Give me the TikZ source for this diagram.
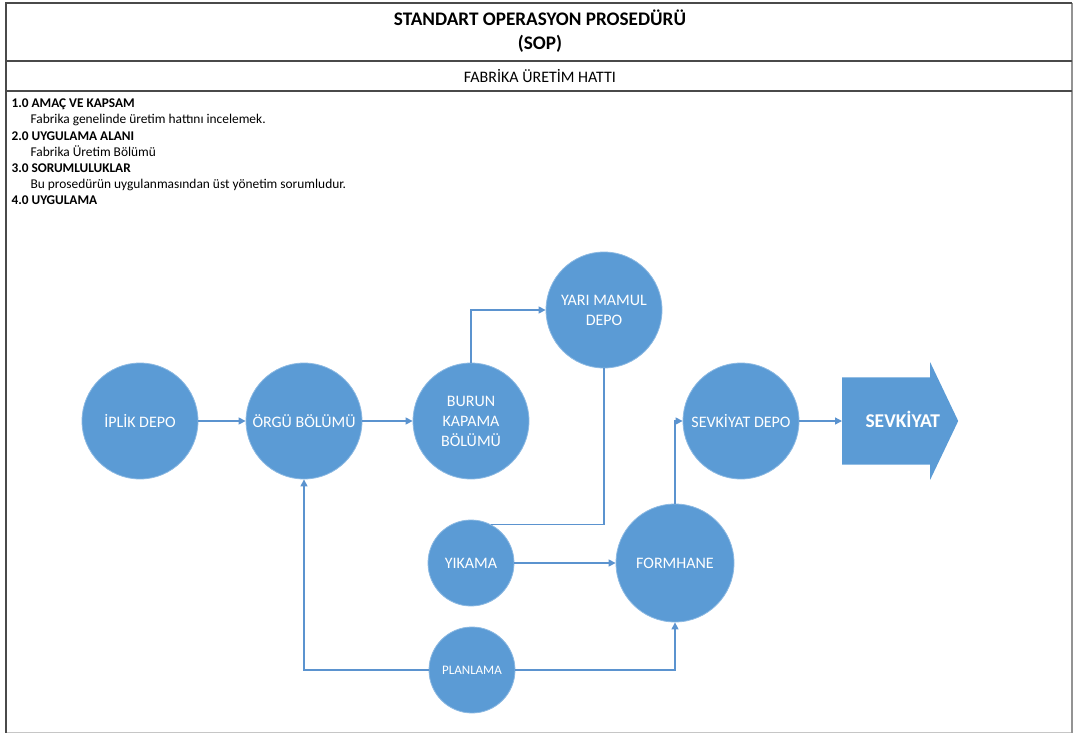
\documentclass[tikz,border=0pt]{standalone}
\usepackage{fontspec}
\setmainfont{Carlito}
\usetikzlibrary{arrows.meta,shapes.arrows}
\definecolor{procblue}{HTML}{5B9BD5}
\definecolor{linkblue}{HTML}{5B93CF}
\definecolor{framegray}{HTML}{4A4A4A}
\begin{document}
\begin{tikzpicture}[x=1pt,y=-1pt,
  proc/.style={circle,fill=procblue,draw=procblue!70!white,line width=0.8pt,
    text=white,inner sep=0pt,minimum size=116pt,align=center,
    font=\fontsize{16}{20}\selectfont},
  minor/.style={proc,minimum size=86pt},
  link/.style={draw=linkblue,line width=1.3pt,-{Triangle[length=7pt,width=7pt]}},
  plain/.style={draw=linkblue,line width=1.3pt},
  head/.style={anchor=base west,font=\bfseries\fontsize{13.3}{15}\selectfont},
  body/.style={anchor=base west,font=\fontsize{13.4}{15}\selectfont}]
\useasboundingbox (0,0) rectangle (1073,733);

% page frame and header rows
\draw[gray!45,line width=1pt] (6,732) -- (1072,732);
\draw[gray!85,line width=1.3pt] (1072,3) -- (1072,733);
\draw[framegray,line width=1.6pt] (6,733) -- (6,3) -- (1072,3);
\draw[framegray,line width=1.6pt] (6,61) -- (1072,61);
\draw[framegray,line width=1.6pt] (6,91) -- (1072,91);

\node[align=center,font=\bfseries\fontsize{19.2}{24}\selectfont] (title) at (540,31)
  {STANDART OPERASYON PROSEDÜRÜ\\(SOP)};
\node[font=\fontsize{16}{18}\selectfont] (subtitle) at (540,76) {FABRİKA ÜRETİM HATTI};

% procedure text
\node[head] (h1) at (8,108) {1.0 AMAÇ VE KAPSAM};
\node[body] (t1) at (27,124) {Fabrika genelinde üretim hattını incelemek.};
\node[head] (h2) at (8,140) {2.0 UYGULAMA ALANI};
\node[body] (t2) at (27,156) {Fabrika Üretim Bölümü};
\node[head] (h3) at (8,172) {3.0 SORUMLULUKLAR};
\node[body] (t3) at (27,188) {Bu prosedürün uygulanmasından üst yönetim sorumludur.};
\node[head] (h4) at (8,204) {4.0 UYGULAMA};

% process stations
\node[proc] (iplik) at (140,421) {İPLİK DEPO};
\node[proc] (orgu) at (304,421) {ÖRGÜ BÖLÜMÜ};
\node[proc] (burun) at (471,421) {BURUN\\KAPAMA\\BÖLÜMÜ};
\node[proc] (yari) at (604,310) {YARI MAMUL\\DEPO};
\node[proc] (sdepo) at (741,421) {SEVKİYAT DEPO};
\node[minor] (yikama) at (471,563) {YIKAMA};
\node[proc,minimum size=118pt] (formhane) at (675,563) {FORMHANE};
\node[minor,font=\fontsize{13}{15}\selectfont] (plan) at (472,670) {PLANLAMA};
% shipping block arrow; its label sits centred on the whole arrow, head included
\node[single arrow,fill=procblue,text=white,inner xsep=2pt,inner ysep=37pt,
  text height=13pt,text depth=0pt,
  single arrow head extend=15pt,single arrow tip angle=129,
  minimum height=116pt,anchor=tail,
  font=\bfseries\fontsize{19.5}{20}\selectfont] (ship) at (842,421)
  {\hspace*{13pt}SEVKİYAT\hspace*{-13pt}};

% flow connectors
\draw[link] (iplik) -- (orgu);
\draw[link] (orgu) -- (burun);
\draw[link] (burun.north) |- (yari.west);
\draw[plain] (yari.south) |- (yikama.62);
\draw[link] (yikama) -- (formhane);
\draw[link] (formhane.north) |- (sdepo.west);
\draw[link] (sdepo) -- (ship.tail);
\draw[link] (plan.west) -| (orgu.south);
\draw[link] (plan.east) -| (formhane.south);
\end{tikzpicture}
\end{document}
